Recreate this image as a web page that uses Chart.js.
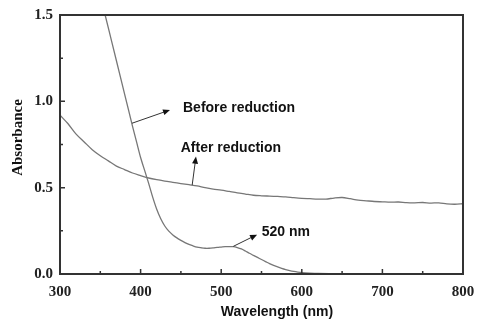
<!DOCTYPE html>
<html><head><meta charset="utf-8">
<script src="https://cdn.jsdelivr.net/npm/chart.js@4"></script>
<style>html,body{margin:0;padding:0;background:#fff}#wrap{width:478px;height:321px}</style>
</head><body><div id="wrap"><canvas id="c" width="478" height="321"></canvas></div>
<script>
// ---- data ----
const beforeWavelengths = [350,356,365,375,385,390,395,400,405,410,415,420,425,430,435,440,445,450,455,460,465,470,475,480,485,490,495,500,505,510,515,520,525,530,535,540,545,550,555,560,565,570,575,580,585,590,595,600,610,620,640,660,700,750,800];
const beforeAbsorbance  = [1.61,1.5,1.33,1.14,0.95,0.855,0.765,0.675,0.6,0.525,0.445,0.375,0.32,0.278,0.248,0.226,0.209,0.195,0.182,0.171,0.163,0.156,0.152,0.149,0.149,0.151,0.154,0.156,0.158,0.159,0.158,0.153,0.145,0.133,0.12,0.108,0.096,0.084,0.072,0.06,0.05,0.041,0.033,0.026,0.02,0.015,0.011,0.008,0.005,0.003,0.002,0.002,0.002,0.001,0.001];
const afterWavelengths = [300,310,320,330,340,350,360,370,380,390,400,410,420,430,440,450,460,470,480,490,500,510,520,530,540,550,560,570,580,590,600,610,620,630,640,650,660,670,680,690,700,710,720,730,740,750,760,770,780,790,800];
const afterAbsorbance  = [0.92,0.87,0.81,0.765,0.72,0.685,0.655,0.625,0.605,0.585,0.57,0.556,0.546,0.538,0.531,0.524,0.517,0.51,0.5,0.492,0.486,0.478,0.47,0.463,0.456,0.453,0.451,0.449,0.447,0.442,0.438,0.436,0.434,0.434,0.44,0.443,0.436,0.428,0.424,0.42,0.418,0.416,0.417,0.413,0.412,0.414,0.411,0.412,0.406,0.404,0.407];
const xTickValues = [300,400,500,600,700,800];
const yTickValues = [0,0.5,1.0,1.5];
const xTitle = 'Wavelength (nm)';
const yTitle = 'Absorbance';
const labelTexts = ['Before reduction','After reduction','520 nm'];

// ---- annotation placement (data coordinates) ----
const annotationPlacement = [
  {text:labelTexts[0], at:[452.6,0.962], from:[389.3,0.873], to:[436.5,0.950]},
  {text:labelTexts[1], at:[449.8,0.730], from:[464.0,0.515], to:[468.7,0.680]},
  {text:labelTexts[2], at:[550.3,0.240], from:[515.0,0.160], to:[544.5,0.228]}
];

const pts = (xs, ys) => xs.map((x,i)=>({x, y: ys[i]}));

const decor = {
  id:'decor',
  afterDraw(chart){
    const {ctx, chartArea:a, scales:{x, y}} = chart;
    ctx.save();
    // frame
    ctx.strokeStyle = '#333';
    ctx.lineWidth = 2;
    ctx.strokeRect(a.left, a.top, a.right - a.left, a.bottom - a.top);
    // inward ticks
    ctx.lineWidth = 1.5;
    ctx.beginPath();
    for (let i=0;i<xTickValues.length;i++){
      const px = x.getPixelForValue(xTickValues[i]);
      if (i>0 && i<xTickValues.length-1){ ctx.moveTo(px,a.bottom); ctx.lineTo(px,a.bottom-5); }
      if (i<xTickValues.length-1){
        const m = x.getPixelForValue((xTickValues[i]+xTickValues[i+1])/2);
        ctx.moveTo(m,a.bottom); ctx.lineTo(m,a.bottom-3);
      }
    }
    for (let i=0;i<yTickValues.length;i++){
      const py = y.getPixelForValue(yTickValues[i]);
      if (i>0 && i<yTickValues.length-1){ ctx.moveTo(a.left,py); ctx.lineTo(a.left+5,py); }
      if (i<yTickValues.length-1){
        const m = y.getPixelForValue((yTickValues[i]+yTickValues[i+1])/2);
        ctx.moveTo(a.left,m); ctx.lineTo(a.left+3,m);
      }
    }
    ctx.stroke();
    // annotations
    ctx.fillStyle = '#111';
    ctx.font = 'bold 14px "Liberation Sans", Arial, sans-serif';
    ctx.textAlign = 'left';
    ctx.textBaseline = 'middle';
    for (const an of annotationPlacement){
      ctx.fillText(an.text, x.getPixelForValue(an.at[0]), y.getPixelForValue(an.at[1]));
      const x1 = x.getPixelForValue(an.from[0]), y1 = y.getPixelForValue(an.from[1]);
      const x2 = x.getPixelForValue(an.to[0]), y2 = y.getPixelForValue(an.to[1]);
      const ang = Math.atan2(y2-y1, x2-x1);
      ctx.strokeStyle = '#333'; ctx.lineWidth = 1;
      ctx.beginPath(); ctx.moveTo(x1,y1); ctx.lineTo(x2-4*Math.cos(ang), y2-4*Math.sin(ang)); ctx.stroke();
      ctx.beginPath();
      ctx.moveTo(x2,y2);
      ctx.lineTo(x2-7*Math.cos(ang)+3*Math.sin(ang), y2-7*Math.sin(ang)-3*Math.cos(ang));
      ctx.lineTo(x2-7*Math.cos(ang)-3*Math.sin(ang), y2-7*Math.sin(ang)+3*Math.cos(ang));
      ctx.closePath(); ctx.fillStyle = '#111'; ctx.fill();
    }
    // axis titles
    ctx.fillStyle = '#111';
    ctx.textAlign = 'center';
    ctx.font = 'bold 14px "Liberation Sans", Arial, sans-serif';
    ctx.fillText(xTitle, 277, 312);
    ctx.translate(18, (a.top+a.bottom)/2 - 7);
    ctx.rotate(-Math.PI/2);
    ctx.font = 'bold 15px "Liberation Serif", "Times New Roman", serif';
    ctx.fillText(yTitle, 0, 0);
    ctx.restore();
  }
};

const tickFont = {family:'"Liberation Serif", "Times New Roman", serif', weight:'bold', size:15};

new Chart(document.getElementById('c'), {
  type:'line',
  data:{datasets:[
    {label:'Before reduction', data:pts(beforeWavelengths, beforeAbsorbance), borderColor:'#777', borderWidth:1.3, pointRadius:0, tension:0.3, fill:false},
    {label:'After reduction', data:pts(afterWavelengths, afterAbsorbance), borderColor:'#777', borderWidth:1.3, pointRadius:0, tension:0.3, fill:false}
  ]},
  options:{
    responsive:false, animation:false, devicePixelRatio:1,
    layout:{padding:{top:15, right:15, left:0, bottom:0}},
    plugins:{legend:{display:false}, tooltip:{enabled:false}},
    scales:{
      x:{type:'linear', min:300, max:800,
        afterBuildTicks:s=>{s.ticks = xTickValues.map(v=>({value:v}));},
        afterFit:s=>{s.height = 47; s.paddingLeft = 0; s.paddingRight = 0;},
        grid:{display:false, drawTicks:false}, border:{display:false},
        ticks:{font:tickFont, color:'#222', padding:9, maxRotation:0, callback:v=>String(v)}},
      y:{type:'linear', min:0, max:1.5,
        afterBuildTicks:s=>{s.ticks = yTickValues.map(v=>({value:v}));},
        afterFit:s=>{s.width = 60; s.paddingTop = 0; s.paddingBottom = 0;},
        grid:{display:false, drawTicks:false}, border:{display:false},
        ticks:{font:tickFont, color:'#222', padding:7, callback:v=>Number(v).toFixed(1)}}
    }
  },
  plugins:[decor]
});
</script></body></html>
